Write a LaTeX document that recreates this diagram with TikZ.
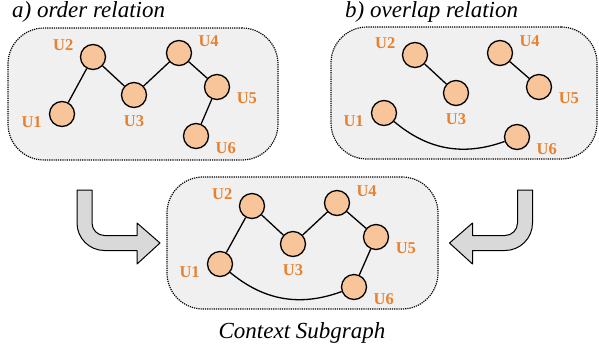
\documentclass[tikz,border=0pt]{standalone}
\usepackage{fontspec}
\setmainfont{Liberation Serif}
\newfontfamily\timesface{Liberation Serif}
\usepackage{xcolor}
\usepackage{tikz}
\usetikzlibrary{positioning}

\definecolor{nodefill}{HTML}{F8C59B}
\definecolor{labelorange}{HTML}{E8812F}
\definecolor{panelgray}{HTML}{F0F0F0}
\definecolor{arrowgray}{HTML}{D9D9D9}

\begin{document}
\begin{tikzpicture}[x=1pt, y=-1pt,
    % Style definitions
    panel/.style={rectangle, rounded corners=36pt, draw=black, densely dotted, line width=1.2pt, fill=panelgray, minimum height=132pt},
    unode/.style={circle, draw=black, line width=1.3pt, fill=nodefill, minimum size=25pt, inner sep=0pt},
    ulabel/.style={font=\timesface\fontsize{16.5}{17}\selectfont\bfseries, text=labelorange, inner sep=1pt},
    title/.style={font=\timesface\fontsize{23}{24}\selectfont\itshape, inner sep=0pt},
    link/.style={line width=1.3pt},
    bigarrow/.style={draw=black, line width=1pt, fill=arrowgray, line join=round},
    label distance=6pt
]
\useasboundingbox (0,0) rectangle (599,349);

% Panel a: order relation
\node[title, anchor=base west] (titlea) at (12,17) {a) order relation};
\node[panel, minimum width=270pt] (panela) at (143,94) {};
\node[unode, label={[ulabel]183:U1}] (a1) at (62,114) {};
\node[unode, label={[ulabel]165:U2}] (a2) at (93,57) {};
\node[unode, label={[ulabel]below:U3}] (a3) at (134,95) {};
\node[unode, label={[ulabel]17:U4}] (a4) at (179,53) {};
\node[unode, label={[ulabel]-14:U5}] (a5) at (217,87) {};
\node[unode, label={[ulabel]-15:U6}] (a6) at (196,136) {};

\draw[link] (a1) -- (a2);
\draw[link] (a2) -- (a3);
\draw[link] (a3) -- (a4);
\draw[link] (a4) -- (a5);
\draw[link] (a5) -- (a6);

% Panel b: overlap relation
\node[title, anchor=base west] (titleb) at (345,17) {b) overlap relation};
\node[panel, minimum width=266pt] (panelb) at (464,93) {};
\node[unode, label={[ulabel]183:U1}] (b1) at (384,113) {};
\node[unode, label={[ulabel]165:U2}] (b2) at (415,55) {};
\node[unode, label={[ulabel]below:U3}] (b3) at (456,93) {};
\node[unode, label={[ulabel]17:U4}] (b4) at (500,53) {};
\node[unode, label={[ulabel]-14:U5}] (b5) at (539,87) {};
\node[unode, label={[ulabel]-15:U6}] (b6) at (517,137) {};

\draw[link] (b2) -- (b3);
\draw[link] (b4) -- (b5);
\draw[link] (b1) to[bend right=30] (b6);

% Panel c: context subgraph
\node[panel, minimum width=271pt] (panelc) at (302.5,243) {};
\node[unode, label={[ulabel]183:U1}] (c1) at (220,264) {};
\node[unode, label={[ulabel]165:U2}] (c2) at (252,206) {};
\node[unode, label={[ulabel]below:U3}] (c3) at (293,244) {};
\node[unode, label={[ulabel]17:U4}] (c4) at (337,203) {};
\node[unode, label={[ulabel]-14:U5}] (c5) at (376,237) {};
\node[unode, label={[ulabel]-15:U6}] (c6) at (354,287) {};
\node[title, anchor=base] (caption) at (302,338) {Context Subgraph};

\draw[link] (c1) -- (c2);
\draw[link] (c2) -- (c3);
\draw[link] (c3) -- (c4);
\draw[link] (c4) -- (c5);
\draw[link] (c5) -- (c6);
\draw[link] (c1) to[bend right=30] (c6);

% Bent arrows into the context subgraph
\draw[bigarrow] (77,190) -- (92,190) -- (92,223) arc[start angle=180, end angle=90, radius=12.5]
    -- (137,235.5) -- (137,223) -- (160,243) -- (137,264) -- (137,250.5) -- (104.5,250.5)
    arc[start angle=90, end angle=180, radius=27.5] -- cycle;
\draw[bigarrow] (532.5,190) -- (517.5,190) -- (517.5,223) arc[start angle=0, end angle=90, radius=12.5]
    -- (472.5,235.5) -- (472.5,223) -- (449.5,243) -- (472.5,264) -- (472.5,250.5) -- (505,250.5)
    arc[start angle=90, end angle=0, radius=27.5] -- cycle;

\end{tikzpicture}
\end{document}
